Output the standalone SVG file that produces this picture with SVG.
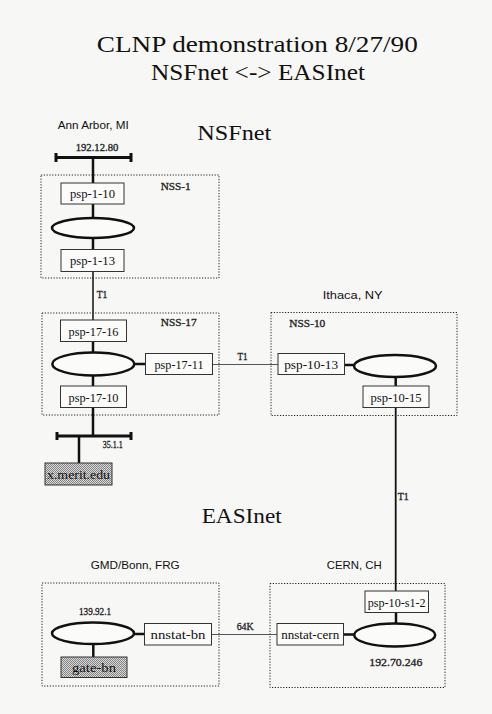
<svg xmlns="http://www.w3.org/2000/svg" width="492" height="714" viewBox="0 0 492 714">
<style>
.bg{fill:#f7f7f5}
.zone{fill:none;stroke:#222;stroke-width:1;stroke-dasharray:1.2,1.6}
.box{fill:#fbfbfa;stroke:#333;stroke-width:1}
.shade{fill:url(#stip);stroke:#333;stroke-width:1}
.ell{fill:#fbfbfa;stroke:#111;stroke-width:2.5}
.link{stroke:#111;stroke-width:2.5;fill:none}
.thin{stroke:#555;stroke-width:1.2;fill:none}
.bus{stroke:#111;stroke-width:3;fill:none}
.t{font-family:"Liberation Serif","Times New Roman",serif;fill:#111}
.lbl{font-family:"Liberation Serif","Times New Roman",serif;font-size:12.5px;fill:#111;text-anchor:middle}
.sm{font-family:"Liberation Serif","Times New Roman",serif;font-size:10px;fill:#222;stroke:#222;stroke-width:0.3}
.loc{font-family:"Liberation Sans",Arial,sans-serif;font-size:11.5px;fill:#111}
</style>
<defs>
<pattern id="stip" width="2" height="2" patternUnits="userSpaceOnUse">
<rect width="2" height="2" fill="#d8d8d8"/>
<rect width="1" height="1" fill="#858585"/>
<rect x="1" y="1" width="1" height="1" fill="#858585"/>
</pattern>
</defs>
<rect class="bg" width="492" height="714"/>

<g id="titles">
<text class="t" x="257.3" y="52" font-size="24" text-anchor="middle" textLength="321" lengthAdjust="spacingAndGlyphs">CLNP demonstration 8/27/90</text>
<text class="t" x="258" y="80" font-size="24" text-anchor="middle" textLength="214" lengthAdjust="spacingAndGlyphs">NSFnet &lt;-&gt; EASInet</text>
<text class="t" x="197.3" y="140" font-size="21" textLength="74" lengthAdjust="spacingAndGlyphs">NSFnet</text>
<text class="t" x="201.7" y="522.7" font-size="21" textLength="80" lengthAdjust="spacingAndGlyphs">EASInet</text>
<text class="loc" x="57.7" y="129" textLength="71" lengthAdjust="spacingAndGlyphs">Ann Arbor, MI</text>
<text class="loc" x="322.7" y="299" textLength="60" lengthAdjust="spacingAndGlyphs">Ithaca, NY</text>
<text class="loc" x="90.7" y="569" textLength="89" lengthAdjust="spacingAndGlyphs">GMD/Bonn, FRG</text>
<text class="loc" x="326.7" y="569" textLength="55" lengthAdjust="spacingAndGlyphs">CERN, CH</text>
</g>

<g id="connectors">
<line class="bus" x1="56" y1="157.5" x2="131" y2="157.5"/>
<line class="bus" x1="56" y1="153" x2="56" y2="162"/>
<line class="bus" x1="131" y1="153" x2="131" y2="162"/>
<line class="link" x1="93" y1="157.5" x2="93" y2="183"/>
<line class="link" x1="93" y1="204" x2="93" y2="218"/>
<line class="link" x1="93" y1="238" x2="93" y2="249.5"/>
<line class="thin" x1="93" y1="271.5" x2="93" y2="320" style="stroke:#111;stroke-width:1.5"/>
<line class="link" x1="93" y1="341.5" x2="93" y2="352.5"/>
<line class="link" x1="93" y1="375.5" x2="93" y2="386"/>
<line class="link" x1="93" y1="407.5" x2="93" y2="436"/>
<line class="link" x1="134.3" y1="364" x2="145.5" y2="364"/>
<line class="thin" x1="212.5" y1="364.5" x2="278" y2="364.5"/>
<line class="bus" x1="57" y1="436" x2="131" y2="436"/>
<line class="bus" x1="57" y1="432" x2="57" y2="440"/>
<line class="bus" x1="131" y1="432" x2="131" y2="440"/>
<line class="link" x1="79" y1="436" x2="79" y2="463"/>
<line class="link" x1="344.5" y1="365" x2="354" y2="365"/>
<line class="link" x1="395.7" y1="377" x2="395.7" y2="386"/>
<line class="thin" x1="395.7" y1="407.5" x2="395.7" y2="591" style="stroke:#111;stroke-width:1.8"/>
<line class="link" x1="396" y1="612.5" x2="396" y2="623.5"/>
<line class="link" x1="343.5" y1="634.5" x2="354.2" y2="634.5"/>
<line class="thin" x1="211.5" y1="634.5" x2="277" y2="634.5"/>
<line class="link" x1="134" y1="634" x2="144.5" y2="634"/>
<line class="link" x1="93.3" y1="644" x2="93.3" y2="657"/>
<text class="sm" x="96.7" y="298" textLength="10.6" lengthAdjust="spacingAndGlyphs">T1</text>
<text class="sm" x="237.5" y="359.5" textLength="10" lengthAdjust="spacingAndGlyphs">T1</text>
<text class="sm" x="397.7" y="500" textLength="11" lengthAdjust="spacingAndGlyphs">T1</text>
<text class="sm" x="236.7" y="630" textLength="17" lengthAdjust="spacingAndGlyphs">64K</text>
<text class="sm" x="75.7" y="151" textLength="42.6" lengthAdjust="spacingAndGlyphs">192.12.80</text>
<text class="sm" x="102.7" y="448" textLength="20" lengthAdjust="spacingAndGlyphs">35.1.1</text>
</g>

<g id="nss-1">
<rect class="zone" x="41" y="175" width="178" height="103"/>
<text class="sm" x="160.7" y="190" textLength="30" lengthAdjust="spacingAndGlyphs">NSS-1</text>
</g>
<g id="psp-1-10"><rect class="box" x="61" y="183" width="63" height="21"/><text class="lbl" x="92.5" y="197.5" textLength="45" lengthAdjust="spacingAndGlyphs">psp-1-10</text></g>
<g id="ring-nss-1"><ellipse class="ell" cx="93" cy="228" rx="41" ry="10"/></g>
<g id="psp-1-13"><rect class="box" x="61" y="249.5" width="63" height="22"/><text class="lbl" x="92.5" y="265" textLength="45" lengthAdjust="spacingAndGlyphs">psp-1-13</text></g>

<g id="nss-17">
<rect class="zone" x="42" y="313" width="177" height="102"/>
<text class="sm" x="160.7" y="326" textLength="36" lengthAdjust="spacingAndGlyphs">NSS-17</text>
</g>
<g id="psp-17-16"><rect class="box" x="60.5" y="320" width="66" height="21.5"/><text class="lbl" x="93.5" y="335.5" textLength="50" lengthAdjust="spacingAndGlyphs">psp-17-16</text></g>
<g id="ring-nss-17"><ellipse class="ell" cx="93.3" cy="364" rx="41" ry="11.5"/></g>
<g id="psp-17-11"><rect class="box" x="145.5" y="353.5" width="67" height="21"/><text class="lbl" x="179" y="369" textLength="49" lengthAdjust="spacingAndGlyphs">psp-17-11</text></g>
<g id="psp-17-10"><rect class="box" x="60.5" y="386" width="66" height="21.5"/><text class="lbl" x="93.5" y="401.5" textLength="50" lengthAdjust="spacingAndGlyphs">psp-17-10</text></g>
<g id="x-merit-edu"><rect class="shade" x="45" y="463" width="67" height="22"/><text class="lbl" x="78.5" y="478.5" font-size="13" textLength="63" lengthAdjust="spacingAndGlyphs">x.merit.edu</text></g>

<g id="nss-10">
<rect class="zone" x="271" y="312.5" width="186" height="103"/>
<text class="sm" x="289.3" y="327.3" textLength="36" lengthAdjust="spacingAndGlyphs">NSS-10</text>
</g>
<g id="psp-10-13"><rect class="box" x="278" y="353.5" width="66.5" height="21"/><text class="lbl" x="311.2" y="369" textLength="54" lengthAdjust="spacingAndGlyphs">psp-10-13</text></g>
<g id="ring-nss-10"><ellipse class="ell" cx="395" cy="366" rx="41" ry="11"/></g>
<g id="psp-10-15"><rect class="box" x="363" y="386" width="66" height="21.5"/><text class="lbl" x="396" y="401.5" textLength="51" lengthAdjust="spacingAndGlyphs">psp-10-15</text></g>

<g id="cern">
<rect class="zone" x="270" y="583.5" width="175" height="104"/>
<text class="sm" x="369.3" y="666" textLength="53" lengthAdjust="spacingAndGlyphs">192.70.246</text>
</g>
<g id="psp-10-s1-2"><rect class="box" x="365" y="591" width="63.5" height="21.5"/><text class="lbl" x="396.7" y="606.5" textLength="58" lengthAdjust="spacingAndGlyphs">psp-10-s1-2</text></g>
<g id="ring-cern"><ellipse class="ell" cx="394.7" cy="635" rx="40.5" ry="11.5"/></g>
<g id="nnstat-cern"><rect class="box" x="277" y="623.5" width="66.5" height="21.5"/><text class="lbl" x="310.2" y="639" textLength="58" lengthAdjust="spacingAndGlyphs">nnstat-cern</text></g>

<g id="gmd">
<rect class="zone" x="42" y="583" width="177" height="103"/>
<text class="sm" x="79" y="615" textLength="32" lengthAdjust="spacingAndGlyphs">139.92.1</text>
</g>
<g id="ring-gmd"><ellipse class="ell" cx="93" cy="633.3" rx="41" ry="10.7"/></g>
<g id="nnstat-bn"><rect class="box" x="144.5" y="623.5" width="67" height="21.5"/><text class="lbl" x="178" y="639" textLength="55" lengthAdjust="spacingAndGlyphs">nnstat-bn</text></g>
<g id="gate-bn"><rect class="shade" x="61" y="657" width="66" height="20.5"/><text class="lbl" x="94" y="672" font-size="13" textLength="44" lengthAdjust="spacingAndGlyphs">gate-bn</text></g>
</svg>
